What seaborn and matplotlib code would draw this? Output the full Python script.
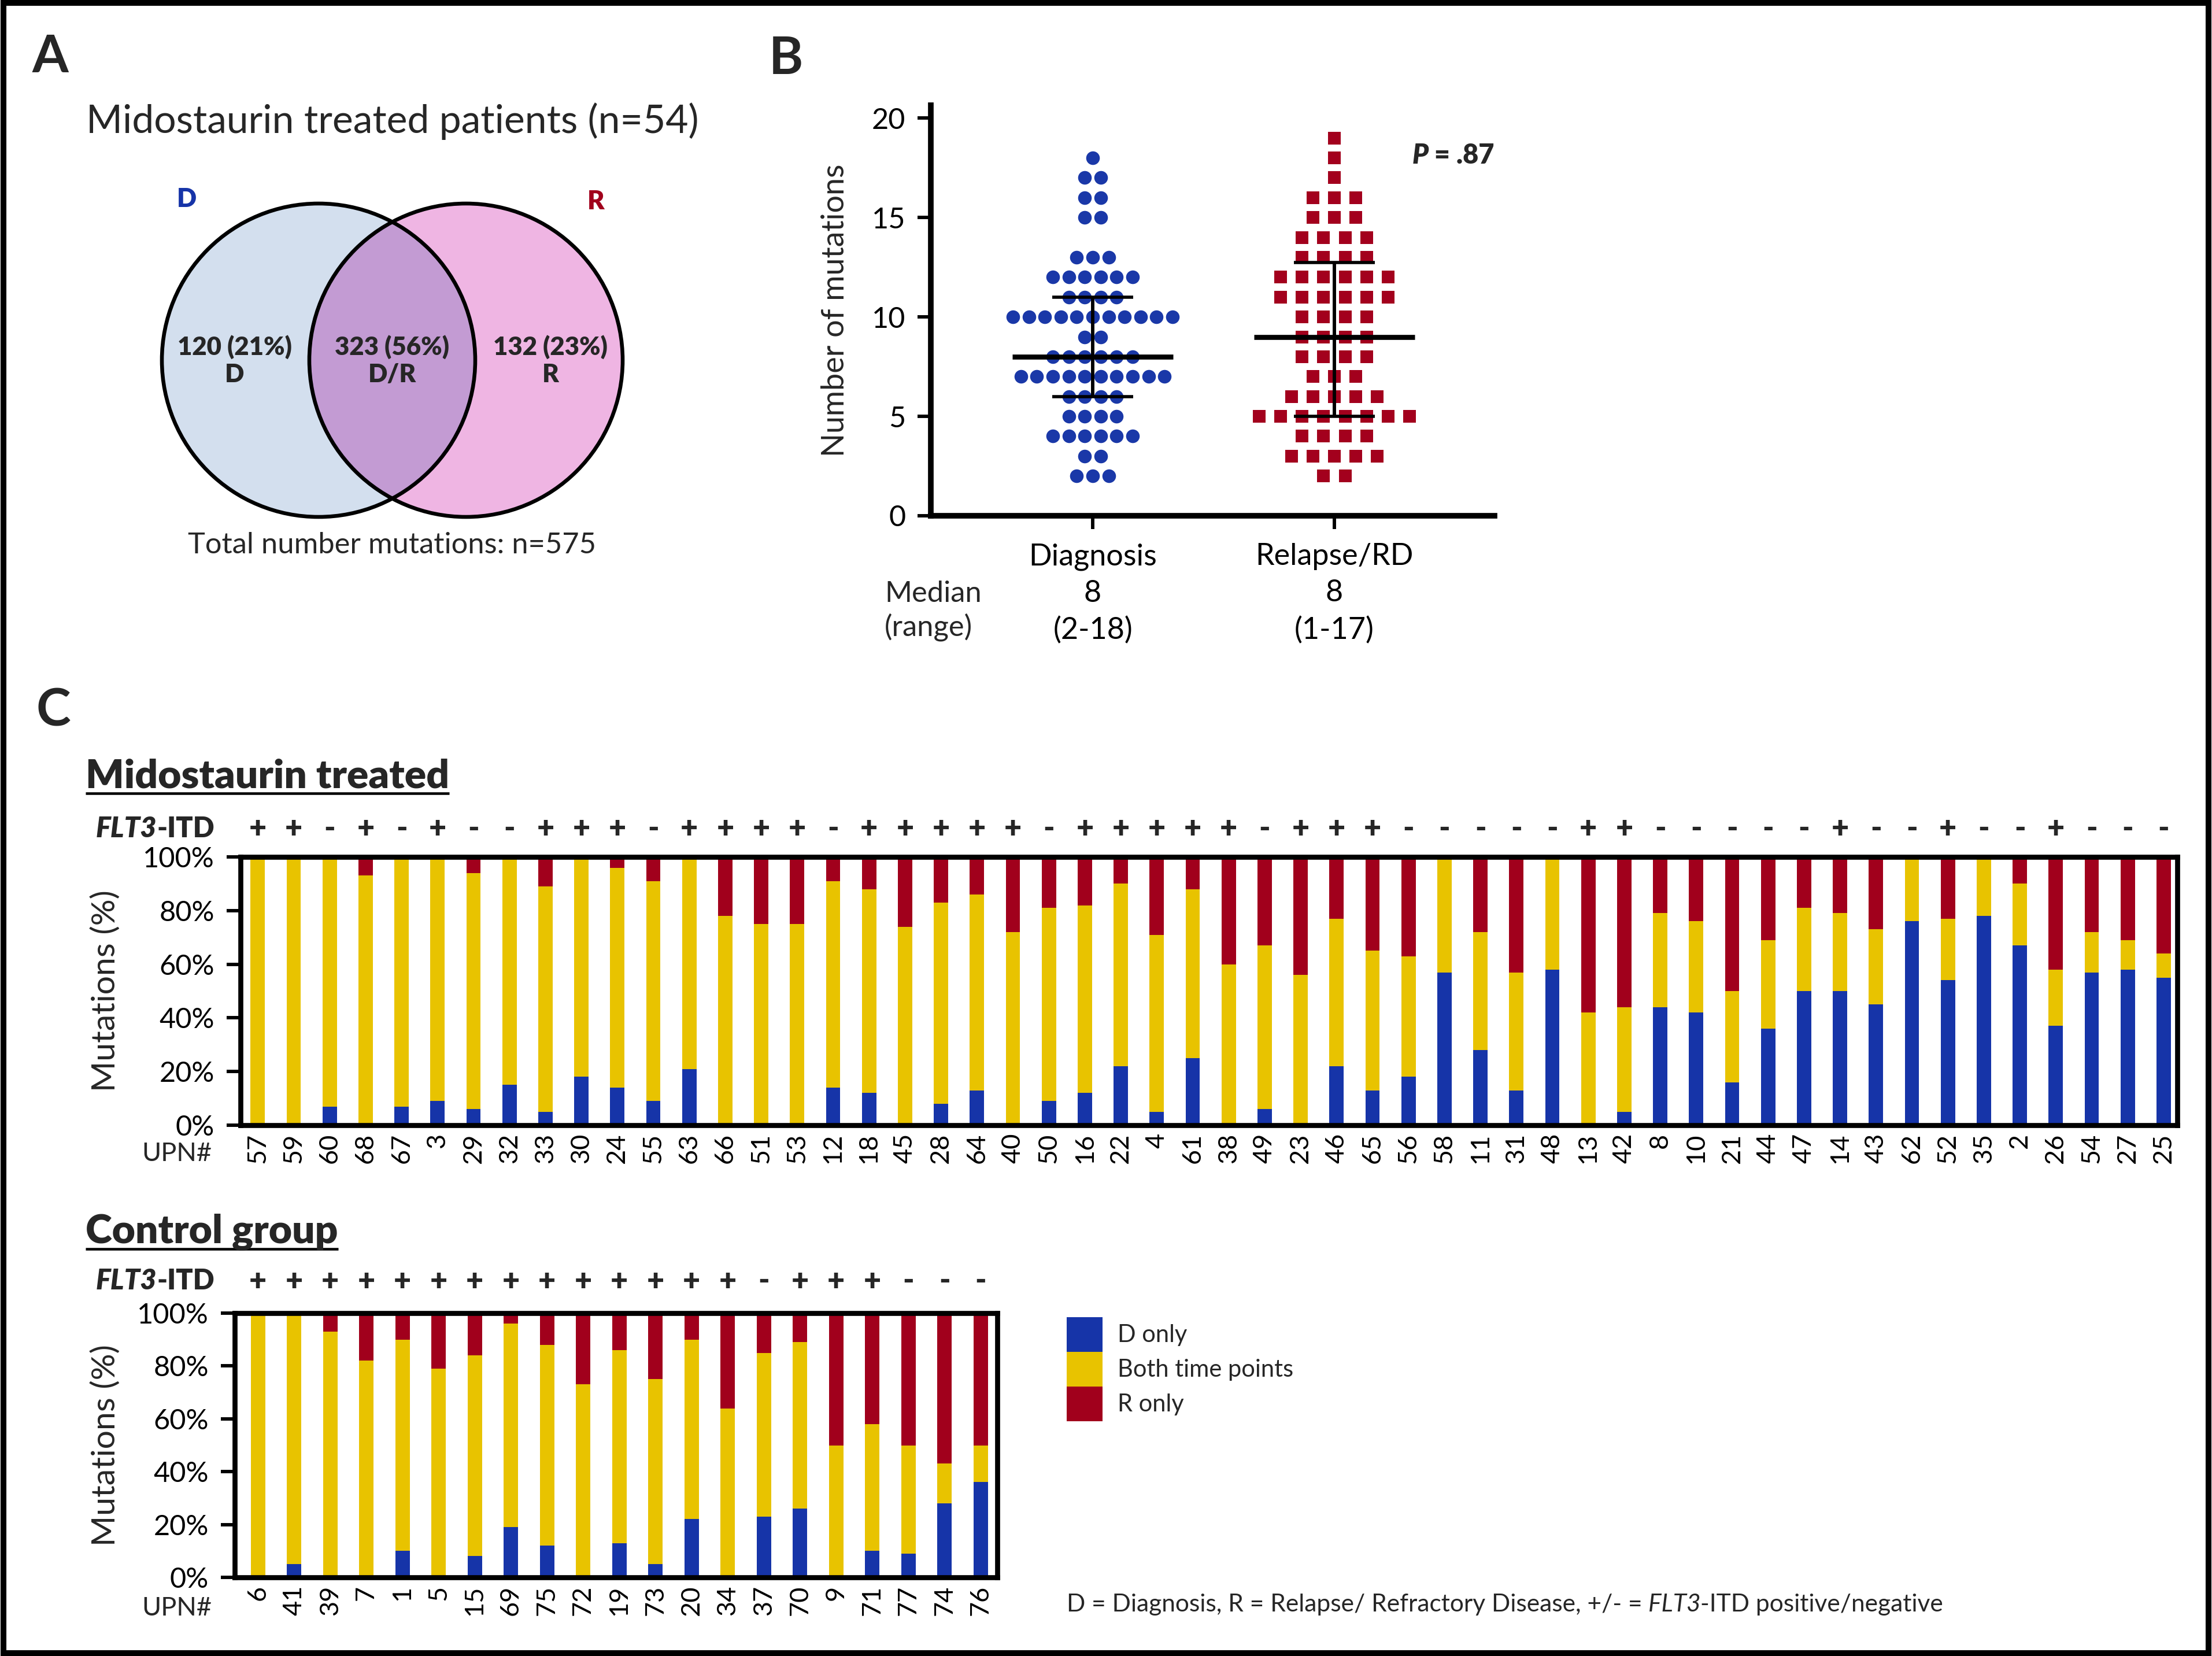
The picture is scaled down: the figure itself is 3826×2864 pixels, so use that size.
import numpy as np
import pandas as pd
import matplotlib.pyplot as plt
from matplotlib.patches import Circle, Rectangle, Patch
from matplotlib.transforms import blended_transform_factory
import seaborn as sns

# ========== Data ========== #
# Panel A - Venn counts
venn_counts = [120, 323, 132]
venn_pct = [21, 56, 23]
venn_names = ["D", "D/R", "R"]
total_mutations = 575
n_patients = 54

# Panel B - number of mutations per sample (value level -> number of dots)
diag_levels = [2, 3, 4, 5, 6, 7, 8, 9, 10, 11, 12, 13, 15, 16, 17, 18]
diag_counts = [3, 2, 6, 4, 4, 10, 6, 2, 11, 4, 6, 3, 2, 2, 2, 1]
rel_levels = [2, 3, 4, 5, 6, 7, 8, 9, 10, 11, 12, 13, 14, 15, 16, 17, 18, 19]
rel_counts = [2, 5, 4, 8, 5, 3, 4, 4, 4, 6, 6, 4, 4, 3, 3, 1, 1, 1]
group_names = ["Diagnosis", "Relapse/RD"]
group_median = [8, 9]
group_q1 = [6, 5]
group_q3 = [11, 12.75]
median_text = ["8", "8"]
range_text = ["(2-18)", "(1-17)"]
p_text = ".87"

# Panel C - midostaurin treated
mido_upn = [57, 59, 60, 68, 67, 3, 29, 32, 33, 30, 24, 55, 63, 66, 51, 53, 12, 18,
            45, 28, 64, 40, 50, 16, 22, 4, 61, 38, 49, 23, 46, 65, 56, 58, 11, 31,
            48, 13, 42, 8, 10, 21, 44, 47, 14, 43, 62, 52, 35, 2, 26, 54, 27, 25]
mido_flt3 = list("++-+-+--++" "+-++++-+++" "++-+++++-+" "++-----++-" "----+--+--" "+---")
mido_d = [0, 0, 7, 0, 7, 9, 6, 15, 5, 18, 14, 9, 21, 0, 0, 0, 14, 12,
          0, 8, 13, 0, 9, 12, 22, 5, 25, 0, 6, 0, 22, 13, 18, 57, 28, 13,
          58, 0, 5, 44, 42, 16, 36, 50, 50, 45, 76, 54, 78, 67, 37, 57, 58, 55]
mido_both = [100, 100, 93, 93, 93, 91, 88, 85, 84, 82, 82, 82, 79, 78, 75, 75, 77, 76,
             74, 75, 73, 72, 72, 70, 68, 66, 63, 60, 61, 56, 55, 52, 45, 43, 44, 44,
             42, 42, 39, 35, 34, 34, 33, 31, 29, 28, 24, 23, 22, 23, 21, 15, 11, 9]
mido_r = [0, 0, 0, 7, 0, 0, 6, 0, 11, 0, 4, 9, 0, 22, 25, 25, 9, 12,
          26, 17, 14, 28, 19, 18, 10, 29, 12, 40, 33, 44, 23, 35, 37, 0, 28, 43,
          0, 58, 56, 21, 24, 50, 31, 19, 21, 27, 0, 23, 0, 10, 42, 28, 31, 36]

# Panel C - control group
ctrl_upn = [6, 41, 39, 7, 1, 5, 15, 69, 75, 72, 19, 73, 20, 34, 37, 70, 9, 71, 77, 74, 76]
ctrl_flt3 = list("++++++++++++++-+++---")
ctrl_d = [0, 5, 0, 0, 10, 0, 8, 19, 12, 0, 13, 5, 22, 0, 23, 26, 0, 10, 9, 28, 36]
ctrl_both = [100, 95, 93, 82, 80, 79, 76, 77, 76, 73, 73, 70, 68, 64, 62, 63, 50, 48, 41, 15, 14]
ctrl_r = [0, 0, 7, 18, 10, 21, 16, 4, 12, 27, 14, 25, 10, 36, 15, 11, 50, 42, 50, 57, 50]

legend_labels = ["D only", "Both time points", "R only"]

# ========== Style ========== #
W, H, DPI = 3826, 2864, 250
BLUE = "#1634a8"
YELLOW = "#e8c300"
RED = "#a1001c"
DOT_BLUE = "#1a38a8"
DOT_RED = "#a3001d"

sns.set_style("ticks")
plt.rcParams["font.family"] = ["Lato", "DejaVu Sans"]
plt.rcParams["axes.edgecolor"] = "black"
plt.rcParams["xtick.color"] = "black"
plt.rcParams["ytick.color"] = "black"


def rect(left, top, right, bottom):
    return [left / W, 1 - bottom / H, (right - left) / W, (bottom - top) / H]


fig = plt.figure(figsize=(W / DPI, H / DPI), dpi=DPI)

# full-figure canvas in pixel units for free text, venn and frame
canvas = fig.add_axes([0, 0, 1, 1])
canvas.set_xlim(0, W)
canvas.set_ylim(H, 0)
canvas.axis("off")

canvas.add_patch(Rectangle((6, 5), W - 12, H - 10, fill=False, lw=2.9,
                           ec="black", clip_on=False))

# ========== A: Venn ========== #
canvas.text(87, 99, "A", fontsize=26, fontweight="bold", ha="center", va="center")
canvas.text(679, 210, f"Midostaurin treated patients (n={n_patients})",
            fontsize=19.5, ha="center", va="center")

left_c, right_c, rad = (551, 623), (806, 623), 271
c_left = Circle(left_c, rad, fc="#d3dfee", ec="none")
c_right = Circle(right_c, rad, fc="#efb5e3", ec="none")
canvas.add_patch(c_left)
canvas.add_patch(c_right)
overlap = Circle(right_c, rad, fc="#c39bd3", ec="none")
canvas.add_patch(overlap)
overlap.set_clip_path(c_left)
for c in (left_c, right_c):
    canvas.add_patch(Circle(c, rad, fill=False, ec="black", lw=1.9))

canvas.text(323, 344, "D", color=BLUE, fontsize=13, fontweight="heavy",
            ha="center", va="center")
canvas.text(1031, 348, "R", color=RED, fontsize=13, fontweight="heavy",
            ha="center", va="center")
for xpos, cnt, pct, name in zip([406, 678, 952], venn_counts, venn_pct, venn_names):
    canvas.text(xpos, 600, f"{cnt} ({pct}%)", fontsize=12.6, fontweight="heavy",
                ha="center", va="center")
    canvas.text(xpos, 648, name, fontsize=12.6, fontweight="heavy",
                ha="center", va="center")
canvas.text(678, 943, f"Total number mutations: n={total_mutations}",
            fontsize=14.6, ha="center", va="center")

# ========== B: dot plot ========== #
canvas.text(1359, 102, "B", fontsize=26, fontweight="bold", ha="center", va="center")


def grid_points(levels, counts, centre, spacing):
    vals, xs = [], []
    for v, n in zip(levels, counts):
        vals += [v] * n
        xs += list(centre + (np.arange(n) - (n - 1) / 2) * spacing)
    return pd.DataFrame({"x": xs, "value": vals})


ax_b = fig.add_axes(rect(1610, 181.6, 2585, 892))
ax_b.set_facecolor("none")
diag_df = grid_points(diag_levels, diag_counts, 0, 0.066)
rel_df = grid_points(rel_levels, rel_counts, 1, 0.089)
sns.scatterplot(data=diag_df, x="x", y="value", marker="o", color=DOT_BLUE,
                s=46, linewidth=0, ax=ax_b, zorder=2)
sns.scatterplot(data=rel_df, x="x", y="value", marker="s", color=DOT_RED,
                s=38, linewidth=0, ax=ax_b, zorder=2)
for i in range(2):
    ax_b.hlines(group_median[i], i - 0.333, i + 0.333, color="black", lw=2.5, zorder=3)
    ax_b.vlines(i, group_q1[i], group_q3[i], color="black", lw=1.7, zorder=3)
    ax_b.hlines([group_q1[i], group_q3[i]], i - 0.168, i + 0.168, color="black",
                lw=1.6, zorder=3)

ax_b.set_xlim(-0.67, 1.663)
ax_b.set_ylim(0, 20.66)
ax_b.set_yticks([0, 5, 10, 15, 20])
ax_b.set_xticks([0, 1], [f"{g}\n{m}\n{r}" for g, m, r in
                         zip(group_names, median_text, range_text)])
for lbl in ax_b.get_xticklabels():
    lbl.set_linespacing(1.42)
ax_b.set(xlabel="", ylabel="")
sns.despine(ax=ax_b)
for s in ("left", "bottom"):
    ax_b.spines[s].set_linewidth(2.8)
ax_b.tick_params(axis="both", length=6.6, width=1.7, pad=6)
ax_b.tick_params(axis="y", labelsize=14.5)
ax_b.tick_params(axis="x", labelsize=15, pad=7)
canvas.text(1445, 537, "Number of mutations", fontsize=15.5, rotation=90,
            ha="center", va="center")
canvas.text(1530, 1027, "Median", fontsize=14.6, ha="left", va="center")
canvas.text(1530, 1085, "(range)", fontsize=14.6, ha="left", va="center")
p_rest = canvas.text(2585, 269, f" = {p_text}", fontsize=13.5, fontweight="heavy",
                     ha="right", va="center")
canvas.annotate("P", xy=(0, 0), xycoords=p_rest, ha="right", va="bottom",
                fontsize=13.5, fontweight="heavy", style="italic")

# ========== C: stacked bars ========== #
canvas.text(92, 1230, "C", fontsize=26, fontweight="bold", ha="center", va="center")


def stacked_bars(ax, upn, d_only, both, r_only, flt3, xlim, sign_y):
    df = pd.DataFrame({"UPN": [str(u) for u in upn], "D": d_only,
                       "Both": both, "R": r_only})
    df["top"] = df["D"] + df["Both"] + df["R"]
    df["mid"] = df["D"] + df["Both"]
    order = list(df["UPN"])
    for col, colour in (("top", RED), ("mid", YELLOW), ("D", BLUE)):
        sns.barplot(data=df, x="UPN", y=col, order=order, color=colour,
                    saturation=1, width=0.4, errorbar=None, linewidth=0, ax=ax)
    ax.set(xlabel="", ylabel="")
    ax.set_facecolor("none")
    ax.set_xlim(*xlim)
    ax.set_ylim(0, 100)
    ax.set_yticks(range(0, 101, 20), [f"{v}%" for v in range(0, 101, 20)])
    for s in ax.spines.values():
        s.set_visible(True)
        s.set_linewidth(2.5)
    ax.tick_params(axis="y", length=7, width=1.7, pad=6, labelsize=14)
    ax.tick_params(axis="x", length=0, pad=4, labelsize=13, labelrotation=90)
    trans = blended_transform_factory(ax.transData, ax.transAxes)
    for i, s in enumerate(flt3):
        ax.text(i, sign_y, s, transform=trans, ha="center", va="center",
                fontsize=15, fontweight="heavy")


def group_header(title, y_title, y_line, y_flt3, y_upn, y_ylabel):
    t = canvas.text(148, y_title, title, fontsize=20, fontweight="heavy",
                    ha="left", va="center")
    f = canvas.text(166, y_flt3, "FLT3", fontsize=14, fontweight="heavy",
                    style="italic", ha="left", va="center")
    canvas.annotate("-ITD", xy=(1, 0), xycoords=f, ha="left", va="bottom",
                    fontsize=14, fontweight="heavy")
    canvas.text(366, y_upn, "UPN#", fontsize=13, ha="right", va="center")
    canvas.text(183, y_ylabel, "Mutations (%)", fontsize=16.5, rotation=90,
                ha="center", va="center")
    return t, y_line


ax_m = fig.add_axes(rect(416, 1482, 3766, 1946))
stacked_bars(ax_m, mido_upn, mido_d, mido_both, mido_r, mido_flt3,
             (-0.48, 53.38), 1 + 49 / 464)
ax_c = fig.add_axes(rect(406, 2271, 1725, 2728))
stacked_bars(ax_c, ctrl_upn, ctrl_d, ctrl_both, ctrl_r, ctrl_flt3,
             (-0.64, 20.46), 1 + 55 / 457)

headers = [group_header("Midostaurin treated", 1343, 1372, 1433, 1996, 1714),
           group_header("Control group", 2130, 2160, 2216, 2782, 2500)]

# legend
handles = [Patch(fc=c, ec="none") for c in (BLUE, YELLOW, RED)]
canvas.legend(handles, legend_labels, loc="upper left",
              bbox_to_anchor=(1845 / W, 1 - 2278 / H), bbox_transform=fig.transFigure,
              frameon=False, fontsize=12, handlelength=1.49, handleheight=1.84,
              labelspacing=0, handletextpad=0.62, borderpad=0, borderaxespad=0)

# footnote
f1 = canvas.text(1845, 2775, "D = Diagnosis, R = Relapse/ Refractory Disease, +/- =",
                 fontsize=12.25, ha="left", va="center")
f2 = canvas.annotate(" FLT3", xy=(1, 0), xycoords=f1, ha="left", va="bottom",
                     fontsize=12.25, style="italic")
canvas.annotate("-ITD positive/negative", xy=(1, 0), xycoords=f2, ha="left",
                va="bottom", fontsize=12.25)

# underline group titles
fig.canvas.draw()
inv = canvas.transData.inverted()
for t, y_line in headers:
    bb = t.get_window_extent()
    x0 = inv.transform((bb.x0, bb.y0))[0]
    x1 = inv.transform((bb.x1, bb.y0))[0]
    canvas.plot([x0, x1], [y_line, y_line], color="black", lw=1.3,
                solid_capstyle="butt")

fig.savefig("out.png", dpi=DPI)
